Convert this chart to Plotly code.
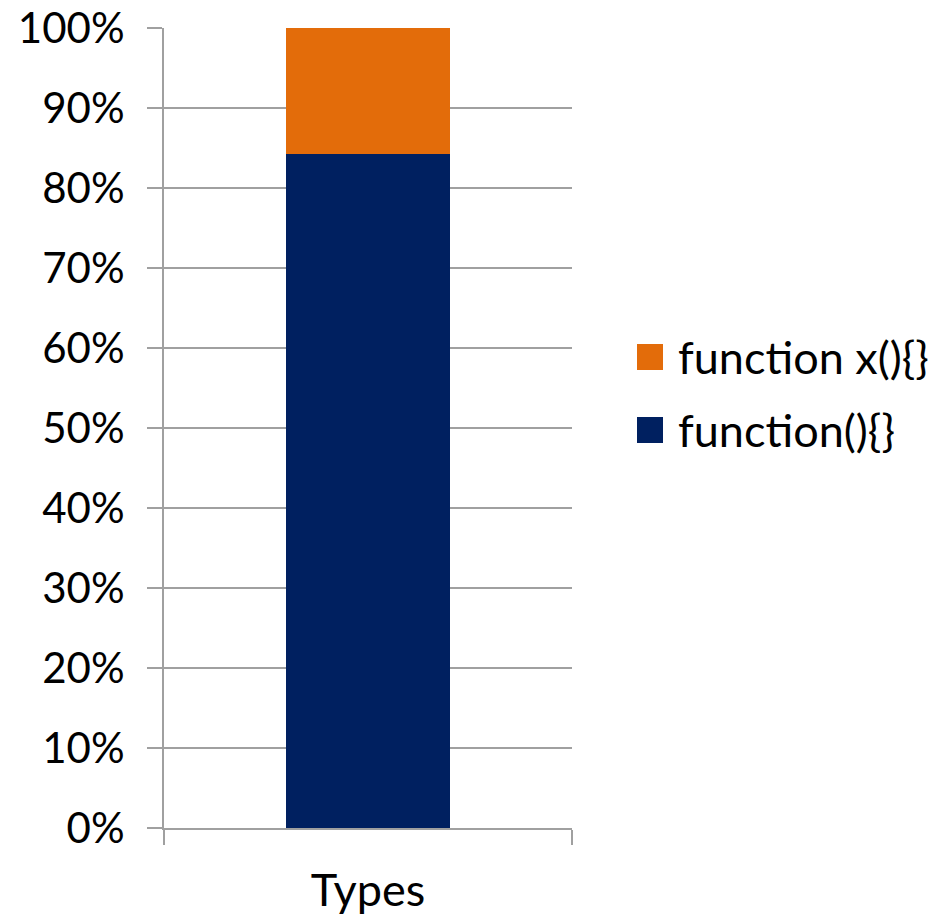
import plotly.graph_objects as go

# Share of each function declaration style (fraction of total)
categories = ["Types"]
series_names = ["function()\u007b\u007d", "function x()\u007b\u007d"]
anon_share = [0.843]
named_share = [0.157]
y_tick_vals = [0, 0.1, 0.2, 0.3, 0.4, 0.5, 0.6, 0.7, 0.8, 0.9, 1.0]

colors = ["#002060", "#E36C0A"]
FONT = "Lato"
FS = 42
LEG_FS = 45
GRID = "#a0a0a0"

W, H = 937, 918
L, R, T, B = 164, 365, 28, 90
plot_w = W - L - R
plot_h = H - T - B

fig = go.Figure()
for name, vals, col in zip(series_names, [anon_share, named_share], colors):
    fig.add_trace(go.Bar(
        x=[0], y=vals, name=name, width=0.4,
        marker=dict(color=col, line=dict(width=0)),
        showlegend=False,
    ))

# Legend drawn as square swatches with labels, top entry first
legend_rows = [(series_names[1], colors[1], 357), (series_names[0], colors[0], 430)]
shapes, annots = [], []
for name, col, cy in legend_rows:
    yc = (H - B - cy) / plot_h
    half = 13 / plot_h
    shapes.append(dict(type="rect", xref="paper", yref="paper",
                       x0=(637 - L) / plot_w, x1=(663 - L) / plot_w,
                       y0=yc - half, y1=yc + half,
                       fillcolor=col, line=dict(width=0)))
    annots.append(dict(xref="paper", yref="paper", x=(676 - L) / plot_w, y=yc,
                       xanchor="left", yanchor="middle", showarrow=False,
                       text=name, font=dict(family=FONT, size=LEG_FS, color="black")))

fig.update_layout(
    width=W, height=H,
    margin=dict(l=L, r=R, t=T, b=B, pad=0, autoexpand=False),
    paper_bgcolor="white", plot_bgcolor="white",
    barmode="stack",
    font=dict(family=FONT, size=FS, color="black"),
    shapes=shapes, annotations=annots,
    xaxis=dict(
        range=[-0.5, 0.5], tickvals=[0], ticktext=categories,
        ticks="", showgrid=False, zeroline=False, automargin=False,
        showline=True, linecolor=GRID, linewidth=2,
        ticklabelstandoff=22,
        minor=dict(tickvals=[-0.5, 0.5], ticks="outside", ticklen=15,
                   tickcolor=GRID, tickwidth=2, showgrid=False),
        tickfont=dict(family=FONT, size=LEG_FS, color="black"),
    ),
    yaxis=dict(
        range=[0, 1], tickvals=y_tick_vals, tickformat=".0%",
        ticks="outside", ticklen=15, tickcolor=GRID, tickwidth=2,
        showgrid=True, gridcolor=GRID, gridwidth=2, zeroline=False,
        showline=True, linecolor=GRID, linewidth=2, automargin=False,
        ticklabelstandoff=14,
        tickfont=dict(family=FONT, size=FS, color="black"),
    ),
)

fig.write_html("out.html")
